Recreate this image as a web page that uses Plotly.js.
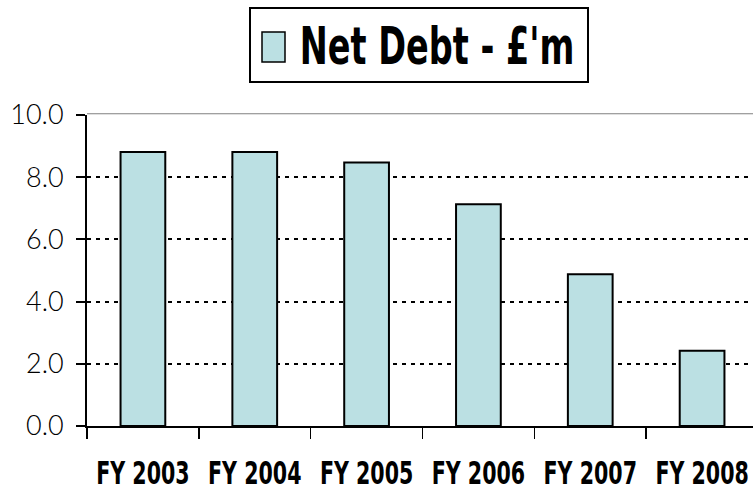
<!DOCTYPE html>
<html>
<head>
<meta charset="utf-8">
<script src="https://cdn.plot.ly/plotly-3.0.1.min.js"></script>
<style>
  html, body { margin: 0; padding: 0; background: #ffffff; overflow: hidden; }
  #chart { width: 753px; height: 496px; overflow: hidden; }
</style>
</head>
<body>
<div id="chart"></div>
<script>
// Net debt by financial year, £ millions
const years = ["FY 2003", "FY 2004", "FY 2005", "FY 2006", "FY 2007", "FY 2008"];
const netDebt = [8.81, 8.81, 8.47, 7.13, 4.88, 2.42];
const seriesName = "Net Debt - £'m";
const yTicks = [0, 2, 4, 6, 8, 10];

const barFill = "#BBE0E3";
const condensedBold = "'DejaVu Sans Condensed', 'DejaVu Sans', sans-serif";

const trace = {
  type: "bar",
  x: years,
  y: netDebt,
  name: seriesName,
  marker: { color: barFill, line: { color: "#000000", width: 2 } },
  hoverinfo: "x+y",
  showlegend: false
};

// Plot area spans 87..758 px horizontally (right edge runs past the window) and 115..426 px vertically
const L = 87, T = 115, PW = 671, PH = 311;
const px = v => (v - L) / PW;
const py = v => (T + PH - v) / PH;

const layout = {
  width: 770,
  height: 496,
  margin: { l: L, r: 770 - L - PW, t: T, b: 496 - T - PH, pad: 0 },
  paper_bgcolor: "#ffffff",
  plot_bgcolor: "#ffffff",
  bargap: 0.6,
  showlegend: false,
  xaxis: {
    type: "category",
    showline: true,
    linecolor: "#000000",
    linewidth: 2,
    ticks: "outside",
    tickson: "boundaries",
    ticklen: 11,
    tickwidth: 1.5,
    tickcolor: "#000000",
    tickangle: 0,
    showgrid: false,
    ticklabelstandoff: 18,
    tickfont: { family: condensedBold, size: 32, color: "#000000", weight: "bold" }
  },
  yaxis: {
    range: [0, 10],
    tickvals: yTicks,
    tickformat: ".1f",
    showline: true,
    linecolor: "#000000",
    linewidth: 2,
    ticks: "outside",
    ticklen: 9,
    tickwidth: 2,
    tickcolor: "#000000",
    showgrid: true,
    gridcolor: "#000000",
    gridwidth: 2,
    griddash: "4px,5px",
    zeroline: false,
    ticklabelstandoff: 7,
    tickfont: { family: "Lato, 'Open Sans', sans-serif", size: 27, color: "#000000", weight: 300 }
  },
  shapes: [
    // thin frame line along the top of the plot area
    { type: "line", xref: "paper", yref: "paper", x0: 0, x1: 1, y0: 1.004, y1: 1.004,
      line: { color: "#808080", width: 1 } },
    // legend frame
    { type: "rect", xref: "paper", yref: "paper",
      x0: px(250), x1: px(588), y0: py(82), y1: py(8),
      line: { color: "#000000", width: 2 }, fillcolor: "#ffffff" },
    // legend swatch
    { type: "rect", xref: "paper", yref: "paper",
      x0: px(262), x1: px(285), y0: py(62), y1: py(32),
      line: { color: "#000000", width: 1.5 }, fillcolor: barFill }
  ],
  annotations: [
    { xref: "paper", yref: "paper", x: px(436.5), y: py(47), xanchor: "center", yanchor: "middle",
      showarrow: false, text: seriesName,
      font: { family: condensedBold, size: 51, color: "#000000", weight: "bold" } }
  ]
};

// Squeeze the bold labels horizontally so they read as a narrow, tall face
function squeeze(selector, factor) {
  document.querySelectorAll(selector).forEach(el => {
    const w = el.getComputedTextLength();
    el.setAttribute("lengthAdjust", "spacingAndGlyphs");
    el.setAttribute("textLength", (w * factor).toFixed(1));
  });
}

Plotly.newPlot("chart", [trace], layout, { displayModeBar: false, staticPlot: true }).then(() => {
  squeeze(".xtick text", 0.715);
  squeeze(".annotation-text", 0.73);
});
</script>
</body>
</html>
